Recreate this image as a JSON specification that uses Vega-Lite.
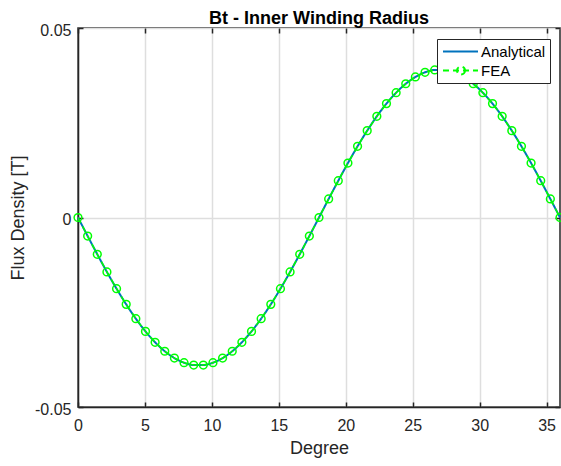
{
  "$schema": "https://vega.github.io/schema/vega-lite/v6.json",
  "width": 482,
  "height": 379,
  "autosize": {"type": "none"},
  "padding": {"left": 78, "top": 28, "right": 1, "bottom": 59},
  "background": "white",
  "title": {"text": "Bt - Inner Winding Radius", "font": "Liberation Sans", "fontSize": 18, "fontWeight": "bold", "color": "#000000", "offset": -20, "baseline": "alphabetic", "frame": "group"},
  "config": {
    "view": {"stroke": "#262626", "strokeWidth": 1.5},
    "axis": {
      "labelFont": "Liberation Sans", "labelFontSize": 16, "labelColor": "#262626", "labelFlush": false, "labelOverlap": false,
      "titleFont": "Liberation Sans", "titleFontSize": 18, "titleColor": "#262626", "titleFontWeight": "normal",
      "domainColor": "#262626", "domainWidth": 1.5, "tickColor": "#262626", "tickWidth": 1.5, "tickSize": -5,
      "gridColor": "#dedede", "gridWidth": 1.5
    }
  },
  "data": {"values": [
    {"x": 0, "a": 0, "f": 0},
    {"x": 0.72, "a": -0.00489, "f": -0.00489},
    {"x": 1.44, "a": -0.0097, "f": -0.0097},
    {"x": 2.16, "a": -0.01436, "f": -0.01436},
    {"x": 2.88, "a": -0.01879, "f": -0.01879},
    {"x": 3.6, "a": -0.02292, "f": -0.02292},
    {"x": 4.32, "a": -0.0267, "f": -0.0267},
    {"x": 5.04, "a": -0.03005, "f": -0.03005},
    {"x": 5.76, "a": -0.03293, "f": -0.03293},
    {"x": 6.48, "a": -0.03529, "f": -0.03529},
    {"x": 7.2, "a": -0.03709, "f": -0.03709},
    {"x": 7.92, "a": -0.03831, "f": -0.03831},
    {"x": 8.64, "a": -0.03892, "f": -0.03892},
    {"x": 9.36, "a": -0.03892, "f": -0.03892},
    {"x": 10.08, "a": -0.03831, "f": -0.03831},
    {"x": 10.8, "a": -0.03709, "f": -0.03709},
    {"x": 11.52, "a": -0.03529, "f": -0.03529},
    {"x": 12.24, "a": -0.03293, "f": -0.03293},
    {"x": 12.96, "a": -0.03005, "f": -0.03005},
    {"x": 13.68, "a": -0.0267, "f": -0.0267},
    {"x": 14.4, "a": -0.02292, "f": -0.02292},
    {"x": 15.12, "a": -0.01879, "f": -0.01879},
    {"x": 15.84, "a": -0.01436, "f": -0.01436},
    {"x": 16.56, "a": -0.0097, "f": -0.0097},
    {"x": 17.28, "a": -0.00489, "f": -0.00489},
    {"x": 18, "a": 0, "f": 0},
    {"x": 18.72, "a": 0.00489, "f": 0.00489},
    {"x": 19.44, "a": 0.0097, "f": 0.0097},
    {"x": 20.16, "a": 0.01436, "f": 0.01436},
    {"x": 20.88, "a": 0.01879, "f": 0.01879},
    {"x": 21.6, "a": 0.02292, "f": 0.02292},
    {"x": 22.32, "a": 0.0267, "f": 0.0267},
    {"x": 23.04, "a": 0.03005, "f": 0.03005},
    {"x": 23.76, "a": 0.03293, "f": 0.03293},
    {"x": 24.48, "a": 0.03529, "f": 0.03529},
    {"x": 25.2, "a": 0.03709, "f": 0.03709},
    {"x": 25.92, "a": 0.03831, "f": 0.03831},
    {"x": 26.64, "a": 0.03892, "f": 0.03892},
    {"x": 27.36, "a": 0.03892, "f": 0.03892},
    {"x": 28.08, "a": 0.03831, "f": 0.03831},
    {"x": 28.8, "a": 0.03709, "f": 0.03709},
    {"x": 29.52, "a": 0.03529, "f": 0.03529},
    {"x": 30.24, "a": 0.03293, "f": 0.03293},
    {"x": 30.96, "a": 0.03005, "f": 0.03005},
    {"x": 31.68, "a": 0.0267, "f": 0.0267},
    {"x": 32.4, "a": 0.02292, "f": 0.02292},
    {"x": 33.12, "a": 0.01879, "f": 0.01879},
    {"x": 33.84, "a": 0.01436, "f": 0.01436},
    {"x": 34.56, "a": 0.0097, "f": 0.0097},
    {"x": 35.28, "a": 0.00489, "f": 0.00489},
    {"x": 36, "a": 0, "f": 0}
  ]},
  "resolve": {"axis": {"x": "independent", "y": "independent"}},
  "layer": [
    {
      "mark": {"type": "line", "strokeWidth": 2, "interpolate": "monotone"},
      "encoding": {
        "x": {"field": "x", "type": "quantitative", "title": "Degree",
          "scale": {"domain": [0, 36], "nice": false, "zero": false},
          "axis": {"values": [0, 5, 10, 15, 20, 25, 30, 35], "titlePadding": 6, "labelPadding": 15}},
        "y": {"field": "a", "type": "quantitative", "title": "Flux Density [T]",
          "scale": {"domain": [-0.05, 0.05], "nice": false},
          "axis": {"values": [-0.05, 0, 0.05], "labelExpr": "datum.value === 0 ? '0' : (datum.value < 0 ? '-' + format(-datum.value, '.2f') : format(datum.value, '.2f'))", "titlePadding": 7, "labelPadding": 12, "labelOffset": 2}},
        "color": {"datum": "Analytical", "type": "nominal",
          "scale": {"domain": ["Analytical", "FEA"], "range": ["#0072BD", "#00FF00"]},
          "legend": {"title": null, "orient": "none", "legendX": 359, "legendY": 11, "strokeColor": "#262626", "fillColor": "white", "padding": 4,
            "labelFont": "Liberation Sans", "labelFontSize": 15, "labelColor": "#000000", "symbolSize": 225, "symbolStrokeWidth": 2, "rowPadding": 2, "labelOffset": 23,
            "encode": {"symbols": {"update": {"shape": {"signal": "datum.value === 'FEA' ? 'M-0.867,0H3.8M2.067,0A0.533,0.533 0 1,1 1,0A0.533,0.533 0 1,1 2.067,0' : 'M-0.867,0H3.8'"}, "fill": {"value": "transparent"}}}}}},
        "strokeDash": {"datum": "Analytical", "type": "nominal",
          "scale": {"domain": ["Analytical", "FEA"], "range": [[1, 0], [6, 4]]},
          "legend": {"title": null, "orient": "none", "legendX": 359, "legendY": 11, "strokeColor": "#262626", "fillColor": "white", "padding": 4,
            "labelFont": "Liberation Sans", "labelFontSize": 15, "labelColor": "#000000", "symbolSize": 225, "symbolStrokeWidth": 2, "rowPadding": 2, "labelOffset": 23,
            "encode": {"symbols": {"update": {"shape": {"signal": "datum.value === 'FEA' ? 'M-0.867,0H3.8M2.067,0A0.533,0.533 0 1,1 1,0A0.533,0.533 0 1,1 2.067,0' : 'M-0.867,0H3.8'"}, "fill": {"value": "transparent"}}}}}}
      }
    },
    {
      "mark": {"type": "line", "strokeWidth": 1.5},
      "encoding": {
        "x": {"field": "x", "type": "quantitative", "axis": null},
        "y": {"field": "f", "type": "quantitative", "axis": null},
        "color": {"datum": "FEA", "type": "nominal"},
        "strokeDash": {"datum": "FEA", "type": "nominal"}
      }
    },
    {
      "mark": {"type": "point", "shape": "circle", "filled": false, "color": "#00FF00", "strokeWidth": 1.5, "size": 60, "opacity": 1},
      "encoding": {
        "x": {"field": "x", "type": "quantitative",
          "axis": {"orient": "top", "values": [0, 5, 10, 15, 20, 25, 30, 35], "labels": false, "title": null, "grid": false, "domain": false}},
        "y": {"field": "f", "type": "quantitative",
          "axis": {"orient": "right", "values": [-0.05, 0, 0.05], "labels": false, "title": null, "grid": false, "domain": false}}
      }
    }
  ]
}
